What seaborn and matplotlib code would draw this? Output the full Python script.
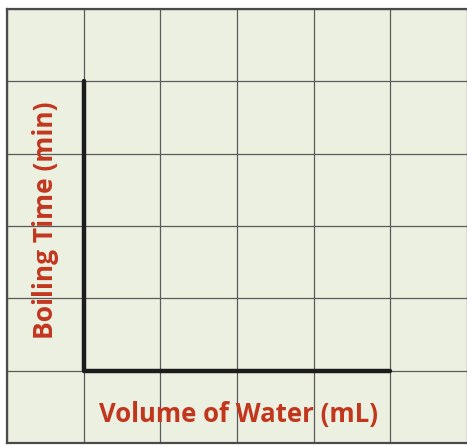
import numpy as np
import pandas as pd
import matplotlib
matplotlib.use("Agg")
import matplotlib.pyplot as plt
import seaborn as sns

# blank graph template: 6 x 6 grid with an L-shaped pair of axes drawn in
n_cols = 6
n_rows = 6
axis_x = [1, 1, 5]
axis_y = [5, 1, 1]
x_label = "Volume of Water (mL)"
y_label = "Boiling Time (min)"

sns.set_style("white", {"axes.facecolor": "#ebf0e1"})
plt.rcParams['font.family'] = ['Open Sans', 'DejaVu Sans']

fig = plt.figure(figsize=(4.67, 4.46), dpi=100)
ax = fig.add_axes([7 / 467, 3 / 446, 460 / 467, 434 / 446])

axis_df = pd.DataFrame({"x": axis_x, "y": axis_y})
sns.lineplot(data=axis_df, x="x", y="y", sort=False, estimator=None,
             color="#1c1c1c", linewidth=3.2, ax=ax, zorder=3)

ax.set_xlim(0, n_cols)
ax.set_ylim(0, n_rows)
ax.set_xticks(np.arange(0, n_cols + 1))
ax.set_yticks(np.arange(0, n_rows + 1))
ax.grid(True, color="#5a5a5a", linewidth=0.9)
ax.tick_params(length=0, labelbottom=False, labelleft=False)
ax.set_xlabel("")
ax.set_ylabel("")
for side in ["left", "bottom", "top"]:
    ax.spines[side].set_color("#4a4a4a")
    ax.spines[side].set_linewidth(1.6)
ax.spines["right"].set_visible(False)

red = "#c2361e"
ax.text(3.02, 0.4, x_label, ha="center", va="center", fontsize=18.5,
        fontweight="bold", color=red)
ax.text(0.5, 3.08, y_label, ha="center", va="center", fontsize=19,
        fontweight="bold", color=red, rotation=90)

fig.savefig("out.png", dpi=100, facecolor="white")
